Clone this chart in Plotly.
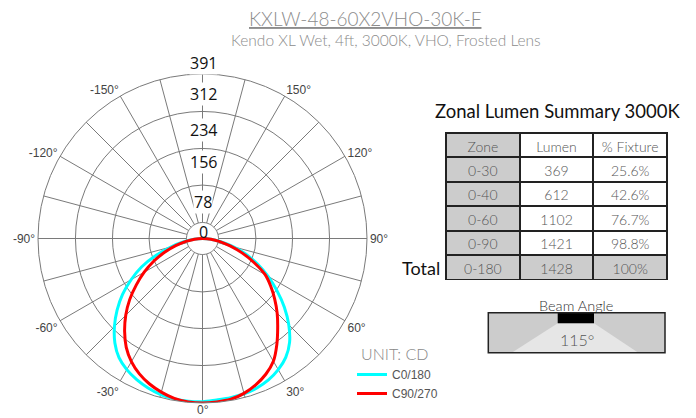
import numpy as np
import plotly.graph_objects as go

W, H = 696, 418

# ---------------- data ----------------
angles = [0, 5, 10, 15, 20, 25, 30, 35, 40, 45, 50, 55, 60, 65, 70, 75, 80, 85, 90]
c0_cd   = [386, 385, 384, 382, 378, 371, 360, 345, 322, 290, 254, 216, 180, 145, 110, 75, 44, 20, 0]
c180_cd = [388, 388, 387, 384, 378, 370, 360, 346, 324, 296, 265, 232, 196, 160, 118, 78, 45, 20, 0]
c90_cd  = [391, 390, 388, 381, 370, 356, 337, 308, 278, 251, 224, 198, 172, 135, 100, 68, 42, 20, 0]
c270_cd = [391, 390, 386, 378, 368, 355, 338, 316, 288, 258, 226, 192, 160, 128, 96, 66, 40, 19, 0]

radial_labels = ["0", "78", "156", "234", "312", "391"]
r_max = 391
ring_values = [127, 214, 302]
inner_ring = 38

ang_tickvals = list(range(0, 360, 15))
ang_labels = {30: "30°", 60: "60°", 90: "90°", 120: "120°", 150: "150°",
              210: "-150°", 240: "-120°", 270: "-90°", 300: "-60°", 330: "-30°"}
bottom_label = "0°"

zones = ["0-30", "0-40", "0-60", "0-90", "0-180"]
lumens = ["369", "612", "1102", "1421", "1428"]
pct_fixture = ["25.6%", "42.6%", "76.7%", "98.8%", "100%"]
table_header = ["Zone", "Lumen", "%\u00a0Fixture"]

beam_angle = "115°"

# ---------------- helpers ----------------
def px(x):
    return x / W

def py(y):
    return 1 - y / H

GRID = "#7a7a7a"
CYAN = "#00ffff"
RED = "#ff0000"

def full_curve(left, right):
    th = [-a for a in angles[::-1]] + angles[1:]
    r = left[::-1] + right[1:]
    return th, r

def note(x, y, text, size, color, family="Lato", weight=None, bg=None):
    f = dict(family=family, size=size, color=color)
    if weight:
        f["weight"] = weight
    fig.add_annotation(x=px(x), y=py(y), xref="paper", yref="paper", text=text,
                       showarrow=False, xanchor="center", yanchor="middle",
                       font=f, bgcolor=bg, borderpad=0)

fig = go.Figure()

# inner white disc (covers spokes at the centre)
disc_t = np.linspace(0, 360, 73)
fig.add_trace(go.Scatterpolar(theta=disc_t, r=[inner_ring] * len(disc_t), mode="lines",
                              fill="toself", fillcolor="white",
                              line=dict(color=GRID, width=1), showlegend=False,
                              hoverinfo="skip"))

th, r = full_curve(c180_cd, c0_cd)
fig.add_trace(go.Scatterpolar(theta=th, r=r, mode="lines", name="C0/180",
                              line=dict(color=CYAN, width=3, shape="spline")))
th, r = full_curve(c270_cd, c90_cd)
fig.add_trace(go.Scatterpolar(theta=th, r=r, mode="lines", name="C90/270",
                              line=dict(color=RED, width=3, shape="spline")))

cx, cy, R = 202.5, 238.5, 164.5
fig.update_layout(
    width=W, height=H,
    margin=dict(l=0, r=0, t=0, b=0),
    paper_bgcolor="white",
    polar=dict(
        domain=dict(x=[px(cx - R), px(cx + R)], y=[py(cy + R), py(cy - R)]),
        bgcolor="white",
        radialaxis=dict(range=[0, r_max], tickvals=ring_values, showticklabels=False,
                        ticks="", showline=False, gridcolor=GRID, gridwidth=1),
        angularaxis=dict(rotation=-90, direction="counterclockwise",
                         tickvals=ang_tickvals,
                         ticktext=[ang_labels.get(v, "") for v in ang_tickvals],
                         ticks="", showline=True, linecolor=GRID, linewidth=1,
                         gridcolor=GRID, gridwidth=1,
                         tickfont=dict(family="Liberation Sans, Arial", size=12, color="#444")),
    ),
    legend=dict(x=px(352), y=py(360), xanchor="left", yanchor="top",
                bgcolor="rgba(0,0,0,0)",
                font=dict(family="Liberation Sans, Arial", size=12, color="#555"),
                tracegroupgap=0, itemwidth=30),
    showlegend=True,
)

note(203, 410, bottom_label, 12, "#444", family="Liberation Sans, Arial")
note(394.5, 353, "UNIT: CD", 16, "#888", weight=300)

# radial labels
label_y = [232, 202, 162, 130, 93.5, 62.5]
for txt, yy in zip(radial_labels, label_y):
    note(203, yy, txt, 16, "#111", family="Open Sans", bg=None if txt == "0" else "white")

# titles
note(365, 18.5, "<u>KXLW-48-60X2VHO-30K-F</u>", 19, "#8c8c8c", weight=300)
note(386, 40, "Kendo XL Wet, 4ft, 3000K, VHO, Frosted Lens", 15.5, "#8c8c8c", weight=300)
note(557.5, 111, "Zonal Lumen Summary 3000K", 18.5, "#111")
note(420.5, 268, "Total", 18, "#111")

# table
GRAY = "#cccccc"
n = len(zones)
fig.add_trace(go.Table(
    domain=dict(x=[px(446), px(667)], y=[py(280), py(133)]),
    columnwidth=[1, 1, 1],
    header=dict(values=table_header, height=24,
                fill_color=[GRAY, "white", "white"],
                line=dict(color="#222", width=2), align="center",
                font=dict(family="Lato", size=14, color="#555", weight=300)),
    cells=dict(values=[zones, lumens, pct_fixture], height=24.5,
               fill_color=[[GRAY] * n, ["white"] * (n - 1) + [GRAY], ["white"] * (n - 1) + [GRAY]],
               line=dict(color="#222", width=2), align="center",
               font=dict(family="Lato", size=14, color="#555", weight=300)),
))

# beam angle graphic
bx0, by0, bx1, by1 = 488.3, 312.7, 665, 352.7
fig.add_shape(type="rect", xref="paper", yref="paper", x0=px(bx0), y0=py(by1), x1=px(bx1), y1=py(by0),
              fillcolor=GRAY, line=dict(width=0), layer="above")
fig.add_shape(type="path", xref="paper", yref="paper",
              path=f"M {px(557.7)} {py(323.3)} L {px(594)} {py(323.3)} L {px(638.3)} {py(by1)} L {px(511.7)} {py(by1)} Z",
              fillcolor="#e6e6e6", line=dict(width=0), layer="above")
fig.add_shape(type="rect", xref="paper", yref="paper", x0=px(557.7), y0=py(323.3), x1=px(594), y1=py(by0),
              fillcolor="black", line=dict(width=0), layer="above")
fig.add_shape(type="rect", xref="paper", yref="paper", x0=px(bx0), y0=py(by1), x1=px(bx1), y1=py(by0),
              fillcolor="rgba(0,0,0,0)", line=dict(color="#222", width=1.5), layer="above")
note(576, 305, "Beam Angle", 14.5, "#333", weight=300)
note(576.7, 339.3, beam_angle, 16, "#555", weight=300)

fig.write_html("out.html", config={"displayModeBar": False},
               post_script="document.body.style.margin='0px';")
